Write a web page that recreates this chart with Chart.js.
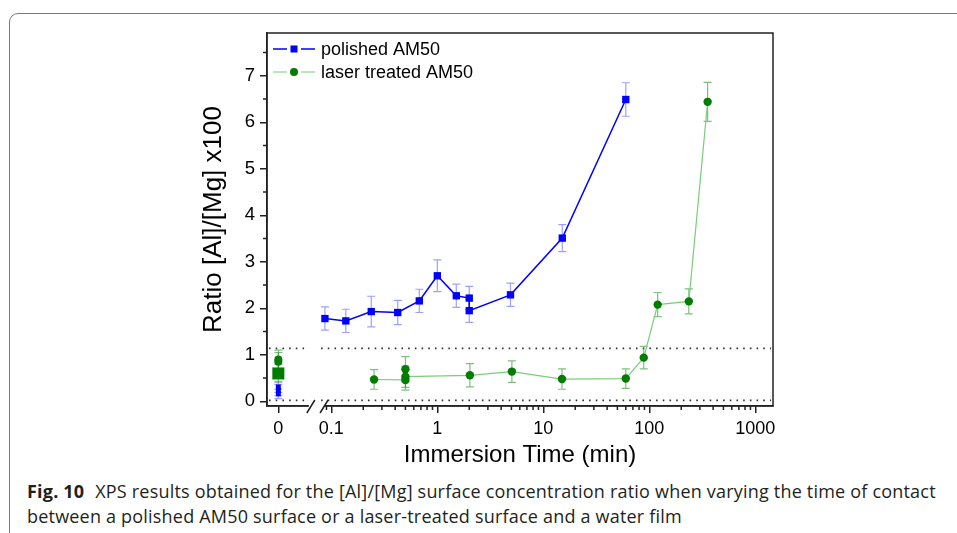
<!DOCTYPE html>
<html>
  <head>
    <title>XPS [Al]/[Mg]</title>
    <script src="https://cdn.jsdelivr.net/npm/chart.js"></script>
    <style>
      body { margin: 0; width: 957px; height: 533px; overflow: hidden; background: #fff; position: relative; }
      .moldura { position: absolute; left: 9px; top: 13px; width: 1000px; height: 600px;
                 border: 1.5px solid #7a7a7a; border-radius: 9px; }
      #caixaGrafico { position: absolute; left: 0; top: 0; width: 957px; height: 475px; }
      .legenda { position: absolute; left: 27px; top: 479px; font-family: "Open Sans", sans-serif;
                 font-size: 18px; letter-spacing: 0.2px; line-height: 25px; white-space: nowrap; color: #231f20; }
      .legenda b { font-weight: 700; margin-right: 6px; }
    </style>
  </head>

  <body>
    <div class="moldura"></div>
    <div id="caixaGrafico"><canvas id="graficoXps"></canvas></div>
    <div class="legenda">
      <b>Fig. 10</b> XPS results obtained for the [Al]/[Mg] surface concentration ratio when varying the time of contact<br />
      between a polished AM50 surface or a laser-treated surface and a water film
    </div>

    <script>
      // Dados: tempo de imersão (min), razão [Al]/[Mg] x100 e erro
      const tempoPolido = [0.087, 0.137, 0.238, 0.423, 0.676, 1, 1.51, 2, 2, 4.9, 15.1, 60];
      const razaoPolido = [1.78, 1.73, 1.93, 1.91, 2.16, 2.70, 2.27, 2.22, 1.95, 2.29, 3.51, 6.49];
      const erroPolido = [0.25, 0.25, 0.33, 0.26, 0.25, 0.34, 0.25, 0.25, 0.25, 0.25, 0.29, 0.36];

      const tempoLaser = [0.253, 0.5, 0.5, 0.5, 2.03, 5.05, 15, 60, 88.6, 120, 236, 355];
      const razaoLaser = [0.47, 0.46, 0.69, 0.53, 0.56, 0.64, 0.48, 0.49, 0.94, 2.08, 2.15, 6.44];
      const erroLaser = [0.21, 0.22, 0.27, 0.23, 0.25, 0.23, 0.22, 0.21, 0.24, 0.26, 0.27, 0.42];

      // amostras sem imersão (t = 0)
      const tempoZero = [0, 0, 0];
      const razaoPolidoZero = [0.16, 0.24, 0.31];
      const erroPolidoZero = [0.1, 0.12, 0.12];
      const razaoLaserZero = [0.60, 0.85, 0.90];
      const erroLaserZero = [0.2, 0.2, 0.2];

      // eixos
      const xTickValues = [0, 0.1, 1, 10, 100, 1000];
      const xTickLabels = ["0", "0.1", "1", "10", "100", "1000"];
      const yTickValues = [0, 1, 2, 3, 4, 5, 6, 7];
      const yMinorTicks = [0.5, 1.5, 2.5, 3.5, 4.5, 5.5, 6.5, 7.5];
      const linhasReferencia = [1.14, 0.02];
      const quebraEixo = [0.06, 0.08];

      // o "0" fica meia década antes de 0.1, depois da quebra do eixo
      const ZERO_AT = Math.pow(10, -1.5);
      function posX(t) {
        return t === 0 ? ZERO_AT : t;
      }

      let xMinorTicks = [0.09];
      for (let n = -1; n <= 2; n++) {
        for (let k = 2; k <= 9; k++) xMinorTicks.push(k * Math.pow(10, n));
      }

      function pontos(tempos, razoes) {
        return tempos.map((t, i) => ({ x: posX(t), y: razoes[i] }));
      }

      const fonte = "Liberation Sans, Arial, sans-serif";

      const dados = {
        datasets: [
          {
            label: "polished AM50",
            data: pontos(tempoPolido, razaoPolido),
            erros: erroPolido,
            corErro: "rgba(80,80,255,0.55)",
            borderColor: "#0000ff",
            borderWidth: 1.5,
            backgroundColor: "#0000ff",
            pointStyle: "rect",
            pointRadius: 5.2,
            pointBorderWidth: 0,
            tension: 0,
          },
          {
            label: "laser treated AM50",
            data: pontos(tempoLaser, razaoLaser),
            erros: erroLaser,
            corErro: "rgba(40,150,40,0.6)",
            borderColor: "#7ccc7c",
            borderWidth: 1.2,
            backgroundColor: "#007c00",
            pointStyle: "circle",
            pointRadius: 4.2,
            pointBorderWidth: 0,
            tension: 0,
          },
          {
            label: "polished t0",
            data: pontos(tempoZero, razaoPolidoZero),
            erros: erroPolidoZero,
            corErro: "rgba(80,80,255,0.55)",
            showLine: false,
            backgroundColor: "#0000ff",
            pointStyle: "rect",
            pointRadius: 3.5,
            pointBorderWidth: 0,
          },
          {
            label: "laser t0",
            data: pontos(tempoZero, razaoLaserZero),
            erros: erroLaserZero,
            corErro: "rgba(40,150,40,0.6)",
            showLine: false,
            backgroundColor: "#007c00",
            pointStyle: ["rect", "circle", "circle"],
            pointRadius: [8.5, 4, 4],
            pointBorderWidth: 0,
          },
        ],
      };

      // linhas pontilhadas, barras de erro, moldura, ticks menores, quebra e legenda
      const extras = {
        id: "extras",
        beforeDatasetsDraw(chart) {
          const ctx = chart.ctx;
          const xs = chart.scales.x;
          const ys = chart.scales.y;
          const area = chart.chartArea;
          const q0 = xs.getPixelForValue(quebraEixo[0]);
          const q1 = xs.getPixelForValue(quebraEixo[1]);

          ctx.save();
          ctx.strokeStyle = "#333";
          ctx.lineWidth = 1.6;
          ctx.setLineDash([1.6, 5.1]);
          linhasReferencia.forEach((v) => {
            const y = ys.getPixelForValue(v);
            ctx.beginPath();
            ctx.moveTo(area.left + 2, y);
            ctx.lineTo(q0, y);
            ctx.moveTo(q1, y);
            ctx.lineTo(area.right - 2, y);
            ctx.stroke();
          });
          ctx.restore();

          ctx.save();
          ctx.lineWidth = 1.2;
          chart.data.datasets.forEach((ds) => {
            ctx.strokeStyle = ds.corErro;
            ds.data.forEach((p, i) => {
              const x = xs.getPixelForValue(p.x);
              const yTop = ys.getPixelForValue(p.y + ds.erros[i]);
              const yBot = ys.getPixelForValue(p.y - ds.erros[i]);
              ctx.beginPath();
              ctx.moveTo(x, yTop);
              ctx.lineTo(x, yBot);
              ctx.moveTo(x - 4, yTop);
              ctx.lineTo(x + 4, yTop);
              ctx.moveTo(x - 4, yBot);
              ctx.lineTo(x + 4, yBot);
              ctx.stroke();
            });
          });
          ctx.restore();
        },
        afterDraw(chart) {
          const ctx = chart.ctx;
          const xs = chart.scales.x;
          const ys = chart.scales.y;
          const area = chart.chartArea;

          ctx.save();
          ctx.strokeStyle = "#222";
          ctx.lineWidth = 1.5;
          ctx.strokeRect(area.left, area.top, area.right - area.left, area.bottom - area.top);

          // ticks menores
          ctx.beginPath();
          xMinorTicks.forEach((v) => {
            const x = xs.getPixelForValue(v);
            ctx.moveTo(x, area.bottom);
            ctx.lineTo(x, area.bottom + 4);
          });
          yMinorTicks.forEach((v) => {
            const y = ys.getPixelForValue(v);
            ctx.moveTo(area.left, y);
            ctx.lineTo(area.left - 4, y);
          });
          ctx.stroke();

          // quebra do eixo x
          const q0 = xs.getPixelForValue(quebraEixo[0]);
          const q1 = xs.getPixelForValue(quebraEixo[1]);
          ctx.fillStyle = "#fff";
          ctx.fillRect(q0 + 1, area.bottom - 3, q1 - q0 + 2, 6);
          ctx.beginPath();
          ctx.moveTo(q0 - 1, area.bottom + 7);
          ctx.lineTo(q0 + 7, area.bottom - 6);
          ctx.moveTo(q1 - 1, area.bottom + 7);
          ctx.lineTo(q1 + 7, area.bottom - 6);
          ctx.stroke();

          // legenda
          const x0 = area.left + 6;
          const linhas = [
            { y: area.top + 16, ds: chart.data.datasets[0] },
            { y: area.top + 39, ds: chart.data.datasets[1] },
          ];
          ctx.font = "18px " + fonte;
          ctx.textBaseline = "middle";
          linhas.forEach((l) => {
            ctx.strokeStyle = l.ds.borderColor;
            ctx.lineWidth = l.ds.borderWidth;
            ctx.beginPath();
            ctx.moveTo(x0, l.y);
            ctx.lineTo(x0 + 14, l.y);
            ctx.moveTo(x0 + 28, l.y);
            ctx.lineTo(x0 + 42, l.y);
            ctx.stroke();
            ctx.fillStyle = l.ds.backgroundColor;
            if (l.ds.pointStyle === "rect") {
              ctx.fillRect(x0 + 17.5, l.y - 3.5, 7, 7);
            } else {
              ctx.beginPath();
              ctx.arc(x0 + 21, l.y, 4, 0, Math.PI * 2);
              ctx.fill();
            }
            ctx.fillStyle = "#000";
            ctx.fillText(l.ds.label, x0 + 48, l.y + 1);
          });
          ctx.restore();
        },
      };

      const config = {
        type: "line",
        data: dados,
        options: {
          responsive: true,
          maintainAspectRatio: false,
          animation: false,
          layout: { padding: { left: 190, right: 184, top: 33, bottom: 0 } },
          plugins: { legend: { display: false }, tooltip: { enabled: false } },
          scales: {
            x: {
              type: "logarithmic",
              min: Math.pow(10, -1.607),
              max: Math.pow(10, 3.167),
              afterBuildTicks: (s) => {
                s.ticks = xTickValues.map((v) => ({ value: posX(v) }));
              },
              afterFit: (s) => {
                s.height = 69;
              },
              ticks: {
                callback: (v, i) => xTickLabels[i],
                autoSkip: false,
                maxRotation: 0,
                padding: 5,
                color: "#000",
                font: { family: fonte, size: 18 },
              },
              grid: { drawOnChartArea: false, tickLength: 7, color: "#222", lineWidth: 1.5 },
              border: { color: "#222", width: 1.5 },
              title: {
                display: true,
                text: "Immersion Time (min)",
                color: "#000",
                font: { family: fonte, size: 24 },
                padding: { top: 0, bottom: 5 },
              },
            },
            y: {
              min: -0.1,
              max: 7.92,
              afterBuildTicks: (s) => {
                s.ticks = yTickValues.map((v) => ({ value: v }));
              },
              afterFit: (s) => {
                s.width = 77;
              },
              ticks: {
                padding: 5,
                color: "#000",
                font: { family: fonte, size: 18.5 },
              },
              grid: { drawOnChartArea: false, tickLength: 7, color: "#222", lineWidth: 1.5 },
              border: { color: "#222", width: 1.5 },
              title: {
                display: true,
                text: "Ratio [Al]/[Mg] x100",
                color: "#000",
                font: { family: fonte, size: 26 },
                padding: { top: 8, bottom: 0 },
              },
            },
          },
        },
        plugins: [extras],
      };

      let meuGrafico = new Chart(document.getElementById("graficoXps"), config);
    </script>
  </body>
</html>
